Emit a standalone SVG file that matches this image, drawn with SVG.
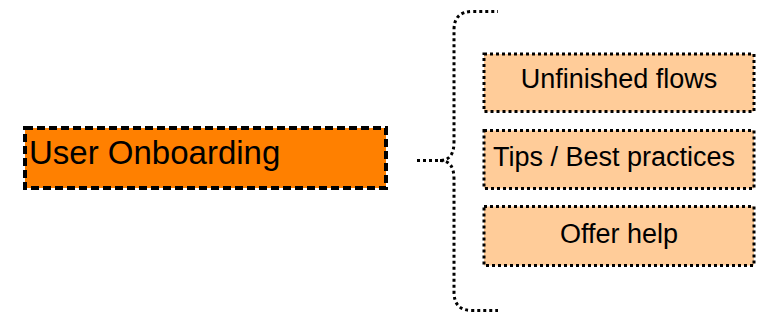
<svg xmlns="http://www.w3.org/2000/svg" width="780" height="320" viewBox="0 0 780 320">
<style>
.main{fill:#FF8000;stroke:#000;stroke-width:4;stroke-dasharray:8 4}
.child{fill:#FFCC99;stroke:#000;stroke-width:3;stroke-dasharray:3 3}
.conn{fill:none;stroke:#000;stroke-width:3;stroke-dasharray:3 3}
text{font-family:"Liberation Sans",Arial,sans-serif;fill:#000}
.t1{font-size:33px}
.t2{font-size:27px;text-anchor:middle}
</style>
<rect width="780" height="320" fill="#fff"/>
<g id="connectors">
<path class="conn" d="M417 160.5 H440 Q454 160.5 454 142 V30 Q454 11.5 472 11.5 H498"/>
<path class="conn" d="M440 160.5 Q454 160.5 454 179 V292 Q454 310.5 472 310.5 H498"/>
</g>
<g id="user-onboarding">
<rect class="main" x="25" y="128" width="361" height="60"/>
<text class="t1" x="29" y="163.5">User Onboarding</text>
</g>
<g id="unfinished-flows">
<rect class="child" x="484" y="54" width="270" height="57.5"/>
<text class="t2" x="619" y="87.5">Unfinished flows</text>
</g>
<g id="tips-best-practices">
<rect class="child" x="484" y="130.5" width="270" height="58"/>
<text class="t2" x="614" y="165.7">Tips / Best practices</text>
</g>
<g id="offer-help">
<rect class="child" x="484" y="206.5" width="270" height="59"/>
<text class="t2" x="619" y="243.3">Offer help</text>
</g>
</svg>
